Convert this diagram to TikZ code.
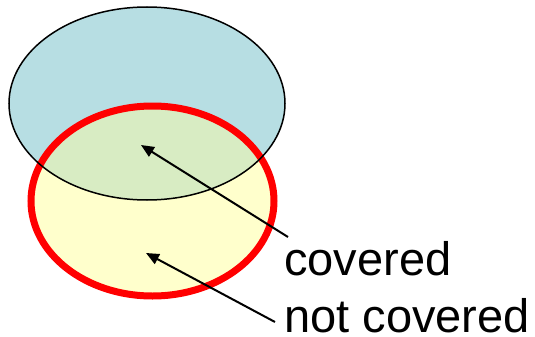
\documentclass[tikz,border=0pt]{standalone}
\usepackage{fontspec}
\setmainfont{Liberation Sans}
\usetikzlibrary{arrows.meta}
\definecolor{setblue}{HTML}{B7DEE3}
\definecolor{setgreen}{HTML}{D8ECC3}
\definecolor{setyellow}{HTML}{FFFFCC}
\definecolor{setred}{HTML}{FF0000}
\tikzset{
  label text/.style={anchor=base west, inner sep=0pt, font=\fontsize{47}{51}\selectfont},
  pointer/.style={line width=2pt, -{Triangle[length=13pt, width=11pt]}},
}
\begin{document}
\begin{tikzpicture}[x=1pt, y=-1pt]
  \useasboundingbox (0,0) rectangle (535,337);
  % the two sets
  \def\bluesetpath{(147,103.5) ellipse [x radius=138, y radius=96.5]}
  \def\redsetpath{(152.5,201) ellipse [x radius=121.5, y radius=95]}
  \fill[setblue] \bluesetpath;
  \fill[setyellow] \redsetpath;
  \begin{scope}
    \clip \bluesetpath;
    \fill[setgreen] \redsetpath;
  \end{scope}
  \draw[setred, line width=7pt] \redsetpath;
  \draw[black, line width=1.5pt] \bluesetpath;
  % labels
  \node[label text] (cov) at (284,275) {covered};
  \node[label text] (notcov) at (284,332) {not covered};
  \coordinate (covtail) at (288,237);
  \coordinate (covtip) at (141,145);
  \coordinate (notcovtail) at (275,322);
  \coordinate (notcovtip) at (146,253);
  \draw[pointer] (covtail) -- (covtip);
  \draw[pointer] (notcovtail) -- (notcovtip);
\end{tikzpicture}
\end{document}
